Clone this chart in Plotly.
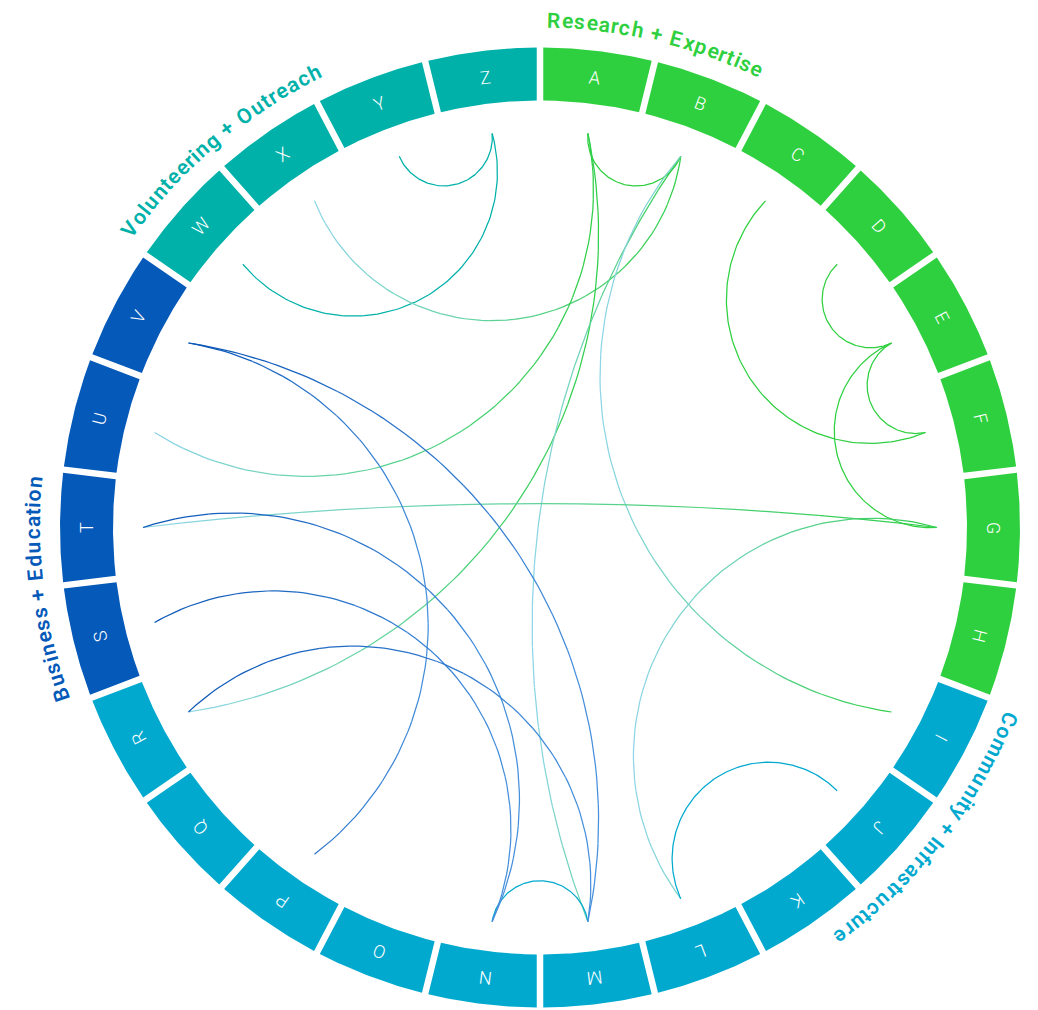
import math
import numpy as np
import plotly.graph_objects as go

# ---------------- data ----------------
nodes = list("ABCDEFGHIJKLMNOPQRSTUVWXYZ")

group_names = ["Research + Expertise", "Community + Infrastructure",
               "Business + Education", "Volunteering + Outreach"]
group_nodes = ["ABCDEFGH", "IJKLMNOPQR", "STUV", "WXYZ"]

link_source = ["Z", "Z", "B", "A", "A", "A", "B", "B", "C", "D", "E", "E",
               "G", "G", "J", "N", "V", "V", "T", "S", "R"]
link_target = ["Y", "W", "X", "B", "U", "R", "M", "I", "F", "E", "F", "G",
               "T", "L", "L", "M", "P", "M", "N", "N", "M"]
link_group = ["Volunteering + Outreach", "Volunteering + Outreach",
              "Research + Expertise", "Research + Expertise", "Research + Expertise",
              "Research + Expertise", "Research + Expertise", "Research + Expertise",
              "Research + Expertise", "Research + Expertise", "Research + Expertise",
              "Research + Expertise", "Research + Expertise", "Research + Expertise",
              "Community + Infrastructure", "Community + Infrastructure",
              "Business + Education", "Business + Education", "Business + Education",
              "Business + Education", "Business + Education"]

# ---------------- style ----------------
PAGE_OFF = 8  # default body margin of the html page
W, H = 1038 - PAGE_OFF, 1010 - PAGE_OFF
CX, CY = 540.0 - PAGE_OFF, 527.5 - PAGE_OFF
R_OUT, R_IN = 480.0, 427.0
R_CHORD = 397.0
R_LABEL = 453.5
R_GROUP = 507.0
GAP = 6.5

GROUP_COLOR = {
    "Research + Expertise": "#2fd040",
    "Community + Infrastructure": "#02a9cf",
    "Business + Education": "#0559b8",
    "Volunteering + Outreach": "#00b1a9",
}
# left -> right gradient for chords leaving their family group
GROUP_GRADIENT = {
    "Research + Expertise": ("#8dd5e8", "#2fcf48"),
    "Community + Infrastructure": ("#7fd0e6", "#02a9cf"),
    "Business + Education": ("#0a55b6", "#4690dc"),
    "Volunteering + Outreach": ("#7fd6d2", "#00b1a9"),
}

node_group = {}
for g, members in zip(group_names, group_nodes):
    for n in members:
        node_group[n] = g

N = len(nodes)
STEP = 360.0 / N
mid_angle = {n: (i + 0.5) * STEP for i, n in enumerate(nodes)}


def pt(a_deg, r):
    a = math.radians(a_deg)
    return CX + r * math.sin(a), CY - r * math.cos(a)


def hex2rgb(h):
    h = h.lstrip("#")
    return tuple(int(h[k:k + 2], 16) for k in (0, 2, 4))


def lerp_color(c1, c2, t):
    a, b = hex2rgb(c1), hex2rgb(c2)
    return "rgb(%d,%d,%d)" % tuple(round(a[k] + (b[k] - a[k]) * t) for k in range(3))


fig = go.Figure()

# ---------------- ring segments ----------------
do = math.degrees(math.asin(GAP / 2 / R_OUT))
di = math.degrees(math.asin(GAP / 2 / R_IN))
for i, n in enumerate(nodes):
    a0, a1 = i * STEP, (i + 1) * STEP
    outer = np.linspace(a0 + do, a1 - do, 40)
    inner = np.linspace(a1 - di, a0 + di, 40)
    xs = [pt(a, R_OUT)[0] for a in outer] + [pt(a, R_IN)[0] for a in inner]
    ys = [pt(a, R_OUT)[1] for a in outer] + [pt(a, R_IN)[1] for a in inner]
    xs.append(xs[0]); ys.append(ys[0])
    col = GROUP_COLOR[node_group[n]]
    fig.add_trace(go.Scatter(x=xs, y=ys, mode="lines", fill="toself",
                             fillcolor=col, line=dict(width=0, color=col),
                             hoverinfo="skip", showlegend=False))


# ---------------- chords ----------------
def bow_fraction(d):
    return 0.40 * math.cos(math.radians(d / 2)) + 0.03


def chord_xy(s, t, npts=121):
    a, b = mid_angle[s], mid_angle[t]
    d = (b - a) % 360
    if d > 180:
        a, b = b, a
        d = 360 - d
    m = a + d / 2
    p1 = np.array(pt(a, R_CHORD))
    p2 = np.array(pt(b, R_CHORD))
    mr = math.radians(m)
    dvec = np.array([-math.sin(mr), math.cos(mr)])  # inward
    L = np.linalg.norm(p2 - p1)
    sag = L * bow_fraction(d)
    apex = (p1 + p2) / 2 + sag * dvec
    r = (L * L / 4 + sag * sag) / (2 * sag)
    c = apex - r * dvec
    t1 = math.atan2(p1[1] - c[1], p1[0] - c[0])
    t2 = math.atan2(p2[1] - c[1], p2[0] - c[0])
    delta = (t2 - t1 + math.pi) % (2 * math.pi) - math.pi
    ts = t1 + delta * np.linspace(0, 1, npts)
    return c[0] + r * np.cos(ts), c[1] + r * np.sin(ts)


SEG = 6
LW = 1.25
for s, t, g in zip(link_source, link_target, link_group):
    xs, ys = chord_xy(s, t)
    if node_group[s] == g and node_group[t] == g:
        fig.add_trace(go.Scatter(x=xs, y=ys, mode="lines",
                                 line=dict(width=LW, color=GROUP_COLOR[g]),
                                 hoverinfo="skip", showlegend=False))
        continue
    cl, cr = GROUP_GRADIENT[g]
    x0, x1 = xs.min(), xs.max()
    for k in range(0, len(xs) - 1, SEG):
        e = min(k + SEG, len(xs) - 1)
        tt = (xs[k:e + 1].mean() - x0) / max(x1 - x0, 1e-6)
        fig.add_trace(go.Scatter(x=xs[k:e + 1], y=ys[k:e + 1], mode="lines",
                                 line=dict(width=LW, color=lerp_color(cl, cr, tt)),
                                 hoverinfo="skip", showlegend=False))

# ---------------- node letters ----------------
annotations = []
for n in nodes:
    a = mid_angle[n]
    x, y = pt(a, R_LABEL)
    annotations.append(dict(x=x, y=y, xref="x", yref="y", text=n, showarrow=False,
                            textangle=a, xanchor="center", yanchor="middle",
                            font=dict(family="Roboto", size=18, color="white", weight=300)))

# ---------------- curved group labels ----------------
CW = {'R': 722, 'e': 556, 's': 556, 'a': 556, 'r': 389, 'c': 556, 'h': 611, ' ': 278,
      '+': 584, 'E': 667, 'x': 556, 'p': 611, 't': 333, 'i': 278, 'V': 667, 'o': 611,
      'l': 278, 'u': 611, 'n': 611, 'g': 611, 'O': 778, 'C': 722, 'm': 889, 'y': 556,
      'I': 278, 'f': 333, 'B': 722, 'd': 611}
GFS = 21
WSCALE = 1.055
for g, members in zip(group_names, group_nodes):
    start = nodes.index(members[0]) * STEP + 0.6
    pos = 0.0
    for ch in g:
        w = CW.get(ch, 600) / 1000 * GFS * WSCALE
        ang = start + math.degrees((pos + w / 2) / R_GROUP)
        pos += w
        if ch == " ":
            continue
        x, y = pt(ang, R_GROUP)
        annotations.append(dict(x=x, y=y, xref="x", yref="y", text=ch, showarrow=False,
                                textangle=ang, xanchor="center", yanchor="middle",
                                font=dict(family="Roboto", size=GFS,
                                          color=GROUP_COLOR[g], weight=600)))

fig.update_layout(
    width=W, height=H, margin=dict(l=0, r=0, t=0, b=0),
    paper_bgcolor="white", plot_bgcolor="white", showlegend=False,
    xaxis=dict(range=[0, W], visible=False, fixedrange=True),
    yaxis=dict(range=[H, 0], visible=False, fixedrange=True),
    annotations=annotations,
)

fig.write_html("out.html")
